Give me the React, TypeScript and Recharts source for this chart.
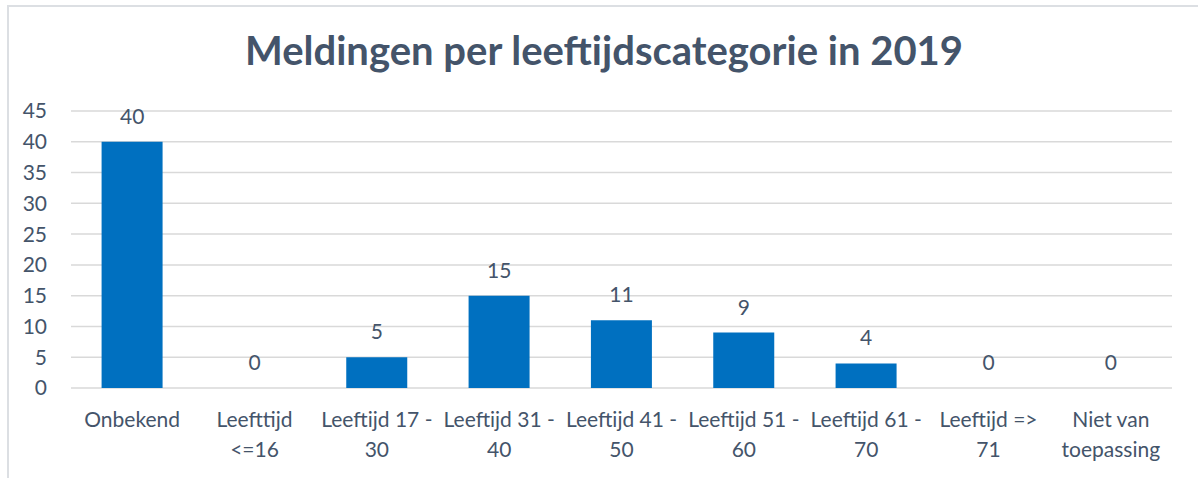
import React from "react";
import { ComposedChart, Bar, Line, XAxis, YAxis, CartesianGrid, LabelList } from "recharts";

const categories = [
  "Onbekend",
  "Leefttijd <=16",
  "Leeftijd 17 - 30",
  "Leeftijd 31 - 40",
  "Leeftijd 41 - 50",
  "Leeftijd 51 - 60",
  "Leeftijd 61 - 70",
  "Leeftijd => 71",
  "Niet van toepassing",
];
const tickLines: string[][] = [
  ["Onbekend"],
  ["Leefttijd", "<=16"],
  ["Leeftijd 17 -", "30"],
  ["Leeftijd 31 -", "40"],
  ["Leeftijd 41 -", "50"],
  ["Leeftijd 51 -", "60"],
  ["Leeftijd 61 -", "70"],
  ["Leeftijd =>", "71"],
  ["Niet van", "toepassing"],
];
const values = [40, 0, 5, 15, 11, 9, 4, 0, 0];
const yTicks = [0, 5, 10, 15, 20, 25, 30, 35, 40, 45];
const title = "Meldingen per leeftijdscategorie in 2019";

const data = categories.map((c, i) => ({ name: c, value: values[i] }));

const FONT = "Lato, 'Open Sans', sans-serif";
const TEXT = "#44546A";
const FS = 21;

const XTick = (props: any) => {
  const { x, y, index } = props;
  const lines = tickLines[index] || [];
  return (
    <g>
      {lines.map((l, k) => (
        <text
          key={k}
          x={x}
          y={y + 31 + k * 30}
          textAnchor="middle"
          fill={TEXT}
          fontSize={FS}
          fontFamily={FONT}
        >
          {l}
        </text>
      ))}
    </g>
  );
};

export default function App() {
  return (
    <div style={{ position: "absolute", left: 0, top: 0, width: 1198, height: 478, overflow: "hidden", background: "#fff" }}>
      <div
        style={{
          position: "absolute",
          left: 0,
          top: 26,
          width: 1208,
          textAlign: "center",
          fontFamily: FONT,
          fontWeight: 700,
          fontSize: 40,
          color: TEXT,
          lineHeight: "48px",
        }}
      >
        {title}
      </div>
      <div style={{ position: "absolute", left: 0, top: 0 }}>
        <ComposedChart
          width={1198}
          height={478}
          data={data}
          margin={{ top: 111, right: 26, bottom: 0, left: 11 }}
          barCategoryGap="25%"
        >
          <CartesianGrid vertical={false} stroke="#D9D9D9" strokeWidth={1.5} />
          <XAxis
            dataKey="name"
            axisLine={false}
            tickLine={false}
            tick={<XTick />}
            interval={0}
            height={90}
          />
          <YAxis
            domain={[0, 45]}
            ticks={yTicks}
            interval={0}
            axisLine={false}
            tickLine={false}
            tickSize={0}
            tickMargin={24}
            width={60}
            tick={{ fill: TEXT, fontSize: FS, fontFamily: FONT }}
          />
          <Bar dataKey="value" fill="#0070C0" isAnimationActive={false} />
          <Line
            dataKey="value"
            stroke="none"
            dot={false}
            activeDot={false}
            legendType="none"
            isAnimationActive={false}
          >
            <LabelList
              dataKey="value"
              position="top"
              offset={18}
              fill={TEXT}
              fontSize={FS}
              fontFamily={FONT}
            />
          </Line>
        </ComposedChart>
      </div>
      <div
        style={{
          position: "absolute",
          left: 7,
          top: 5,
          width: 1300,
          height: 600,
          borderTop: "2px solid #DCDFE3",
          borderLeft: "2px solid #DCDFE3",
          boxSizing: "border-box",
          pointerEvents: "none",
        }}
      />
    </div>
  );
}
